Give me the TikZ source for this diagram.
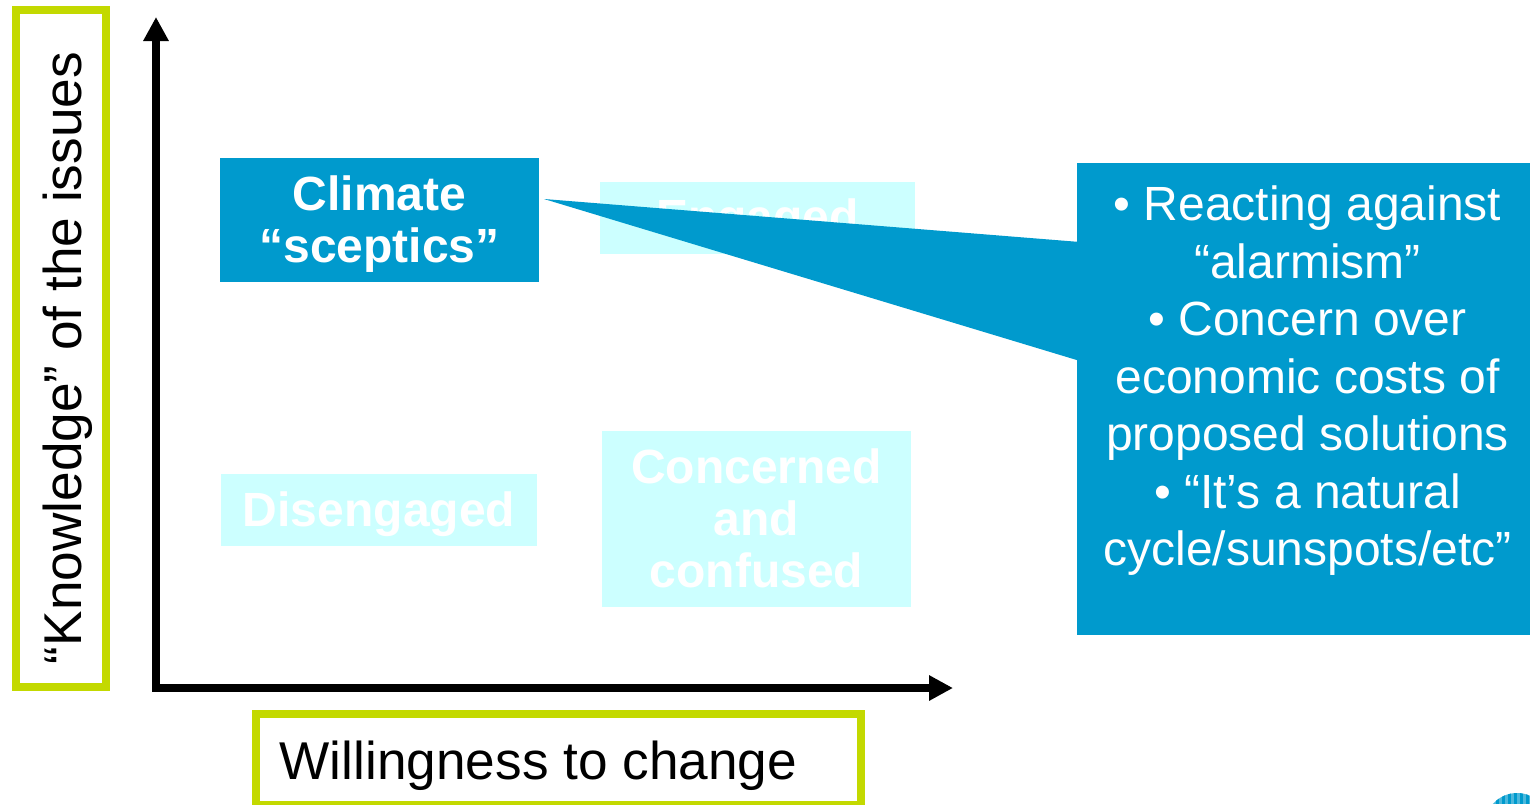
\documentclass[tikz,border=0pt]{standalone}
\usepackage{fontspec}
\setmainfont{Liberation Sans}
\usetikzlibrary{arrows.meta}
\definecolor{calloutblue}{HTML}{009ACD}
\definecolor{palecyan}{HTML}{CCFFFF}
\definecolor{limeframe}{HTML}{C3D900}
\tikzset{
  x=0.5pt,y=-0.5pt,
  boxlabel/.style={text=white,inner sep=0pt,align=center,font=\fontsize{24}{26}\selectfont\bfseries},
  quadrant/.style={fill=palecyan,inner sep=0pt},
  activebox/.style={fill=calloutblue,inner sep=0pt},
  axisframe/.style={draw=limeframe,line width=4pt,inner sep=0pt},
  axistext/.style={font=\fontsize{26.6}{30}\selectfont},
  axisarrow/.style={line width=4pt,-{Triangle[length=12pt,width=12pt]}},
}
\begin{document}
\begin{tikzpicture}
\useasboundingbox (0,0) rectangle (1530,804);
\begin{scope}
\clip (0,0) rectangle (1530,804);
% frames
\node[axisframe,minimum width=677*0.5pt,minimum height=90*0.5pt,rotate=90] (ylabel) at (61,348.5) {};
\node[rotate=90,axistext] (ylabeltext) at (68,358) {“Knowledge” of the issues};
\node[axisframe,minimum width=605*0.5pt,minimum height=91*0.5pt] (xlabel) at (558.5,759.5) {};
\node[axistext] (xlabeltext) at (538.5,766) {Willingness to change};
% axes
\coordinate (origin) at (156,688);
\coordinate (ytip) at (156,17);
\coordinate (xtip) at (953,688);
\coordinate (xstart) at (152,688);
\draw[axisarrow] (origin) -- (ytip);
\draw[axisarrow] (xstart) -- (xtip);
% quadrants
\node[quadrant,minimum width=315*0.5pt,minimum height=72*0.5pt,
  label={[boxlabel,yshift=-1.5pt,name=engagedtext]center:Engaged}] (engaged) at (757.5,218) {};
\node[quadrant,minimum width=316*0.5pt,minimum height=72*0.5pt,
  label={[boxlabel,yshift=-2pt,name=disengagedtext]center:Disengaged}] (disengaged) at (379,510) {};
\node[quadrant,minimum width=309*0.5pt,minimum height=176*0.5pt,
  label={[boxlabel,yshift=0.5pt,name=concernedtext]center:{Concerned\\and\\confused}}] (concerned) at (756.5,519) {};
\node[activebox,minimum width=319*0.5pt,minimum height=124*0.5pt,
  label={[boxlabel,yshift=-2pt,name=scepticstext]center:{Climate\\“sceptics”}}] (sceptics) at (379.5,220) {};
% callout
\coordinate (wedgetip) at (544,199);
\coordinate (wedgetop) at (1080,242);
\coordinate (wedgebot) at (1080,361);
\fill[calloutblue] (wedgetip) -- (wedgetop) -- (wedgebot) -- cycle;
\node[activebox,minimum width=453*0.5pt,minimum height=472*0.5pt,
  label={[text=white,inner sep=0pt,align=center,font=\fontsize{24}{28.75}\selectfont,yshift=9pt,xshift=2pt,name=callouttext]center:{• Reacting against\\“alarmism”\\• Concern over\\economic costs of\\proposed solutions\\• “It’s a natural\\cycle/sunspots/etc”}}] (callout) at (1303.5,399) {};
% logo
\begin{scope}
\clip (1517,825) circle[radius=32];
\fill[calloutblue!70] (1485,790) rectangle (1530,804);
\foreach \sx in {1490,1496,...,1530}{\fill[calloutblue] (\sx,790) rectangle (\sx+3,804);}
\end{scope}
\end{scope}
\end{tikzpicture}
\end{document}
